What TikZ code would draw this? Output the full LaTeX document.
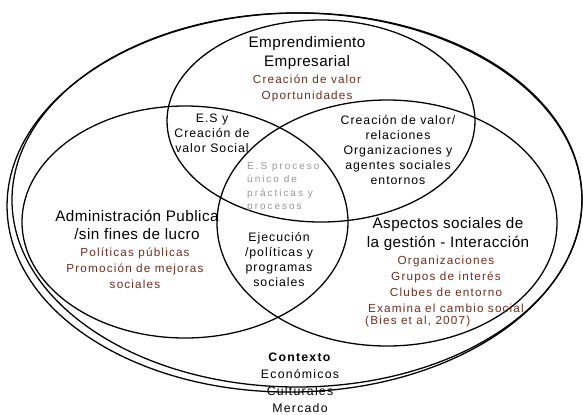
\documentclass[tikz,border=0pt]{standalone}
\usepackage{fontspec}
\setmainfont{Liberation Sans}
\definecolor{marron}{RGB}{110,45,30}
\definecolor{gris}{RGB}{150,150,150}
\tikzset{
  conjunto/.style={draw=black,line width=1.1pt},
  titulo/.style={align=center,inner sep=0pt,
    font=\fontsize{13}{16}\selectfont\addfontfeature{LetterSpace=3}},
  interior/.style={align=center,inner sep=0pt,
    font=\fontsize{10.5}{12.8}\selectfont\addfontfeature{LetterSpace=8}},
  valor/.style={align=center,inner sep=0pt,text=marron,
    font=\fontsize{10}{13.6}\selectfont\addfontfeature{LetterSpace=10}},
  nucleo/.style={align=left,inner sep=0pt,text=gris,
    font=\fontsize{8.5}{11.2}\selectfont\addfontfeature{LetterSpace=20}},
  contexto/.style={align=center,inner sep=0pt,
    font=\fontsize{10.5}{14.5}\selectfont\addfontfeature{LetterSpace=10}}
}
\begin{document}
\begin{tikzpicture}[x=0.03cm,y=-0.03cm]
\useasboundingbox (0,0) rectangle (583,414);

% contexto: dos elipses exteriores
\draw[conjunto] (297,200) ellipse [x radius=285, y radius=187];
\draw[conjunto,rotate around={1.2:(294.5,202.5)}] (294.5,202.5) ellipse [x radius=287.5, y radius=189.5];

% los tres conjuntos
\draw[conjunto] (321,121) ellipse [x radius=154, y radius=101];
\draw[conjunto] (185,222) ellipse [x radius=163, y radius=116];
\draw[conjunto] (387,223) ellipse [x radius=170, y radius=123];

% textos
\path (307,53) node[titulo] (emp) {Emprendimiento\\Empresarial};
\path (307,88) node[valor] (empval) {Creación de valor\\Oportunidades};
\path (212,133) node[interior] (esy) {E.S y\\Creación de\\valor Social};
\path (247,187) node[nucleo,anchor=west] (proc) {E.S proceso\\único de\\prácticas y\\procesos};
\path (398,150) node[interior] (rel) {Creación de valor/\\relaciones\\Organizaciones y\\agentes sociales\\entornos};
\path (137,225) node[titulo] (adm) {Administración Publica\\/sin fines de lucro};
\path (135,268) node[valor] (admval) {Políticas públicas\\Promoción de mejoras\\sociales};
\path (279,260) node[interior] (eje) {Ejecución\\/políticas y\\programas\\sociales};
\path (448,234) node[titulo] (asp) {Aspectos sociales de\\la gestión - Interacción};
\path (446,284) node[valor] (aspval) {Organizaciones\\Grupos de interés\\Clubes de entorno\\Examina el cambio social};
\path (365,321) node[valor,anchor=west] (bies) {(Bies et al, 2007)};
\path (300,383) node[contexto] (ctx) {\textbf{Contexto}\\Económicos\\Culturales\\Mercado};

\end{tikzpicture}
\end{document}
